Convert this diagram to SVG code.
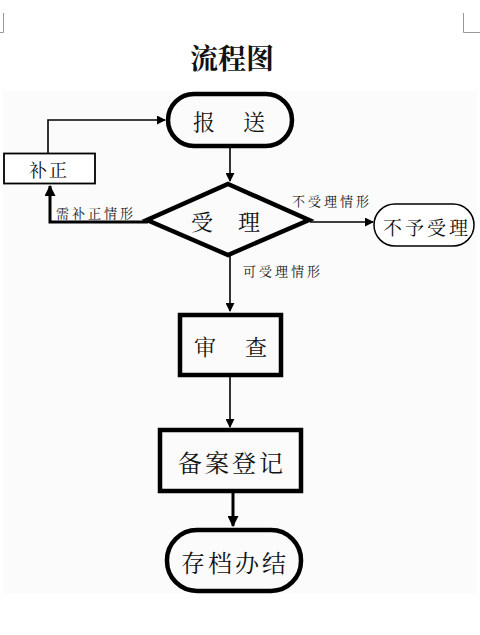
<svg xmlns="http://www.w3.org/2000/svg" width="480" height="635" viewBox="0 0 480 635">
<style>
text{font-family:"Noto Serif CJK SC","Noto Sans CJK SC","Noto Sans CJK JP",serif;fill:#111;text-anchor:middle;dominant-baseline:central}
.thick{fill:none;stroke:#000;stroke-width:4.5}
.ln{fill:none;stroke:#000;stroke-width:1.6}
.lnb{fill:none;stroke:#000;stroke-width:3}
.lbl{font-size:13px;letter-spacing:3px}
</style>
<defs>
<marker id="ah" viewBox="0 0 10 10" refX="9" refY="5" markerWidth="9" markerHeight="9" markerUnits="userSpaceOnUse" orient="auto">
<path d="M0,0 L10,5 L0,10 z" fill="#000"/>
</marker>
<marker id="ahb" viewBox="0 0 10 10" refX="9" refY="5" markerWidth="11" markerHeight="11" markerUnits="userSpaceOnUse" orient="auto">
<path d="M0,0 L10,5 L0,10 z" fill="#000"/>
</marker>
</defs>
<rect x="0" y="0" width="480" height="635" fill="#fff"/>
<g id="page-marks">
<path d="M3.5,13 V32.5 H0" fill="none" stroke="#999" stroke-width="1"/>
<path d="M463.5,13 V32.5 H480" fill="none" stroke="#999" stroke-width="1"/>
</g>
<rect x="3" y="91" width="474" height="502" fill="#fbfbfb"/>
<text x="232" y="57" style="font-size:28px;font-weight:bold">流程图</text>

<g id="connectors">
<path class="ln" d="M230,147 V181" marker-end="url(#ah)"/>
<path class="ln" d="M48,153 V120 H165" marker-end="url(#ah)"/>
<path class="lnb" d="M148,222 H50 V186" marker-end="url(#ahb)"/>
<path class="ln" d="M310,222 H373" marker-end="url(#ah)"/>
<path class="ln" d="M230,255 V311" marker-end="url(#ah)"/>
<path class="ln" d="M230,377 V427" marker-end="url(#ah)"/>
<path class="lnb" d="M233,493 V526" marker-end="url(#ahb)"/>
<text class="lbl" x="96" y="212">需补正情形</text>
<text class="lbl" x="332" y="200">不受理情形</text>
<text class="lbl" x="283" y="270">可受理情形</text>
</g>

<g id="n-baosong">
<rect class="thick" x="168" y="94" width="124" height="52" rx="26"/>
<text x="204" y="120" style="font-size:22px">报</text>
<text x="254" y="120" style="font-size:22px">送</text>
</g>
<g id="n-buzheng">
<rect x="4" y="153.5" width="91" height="30" fill="#fff" stroke="#000" stroke-width="1.8"/>
<text x="49" y="169" style="font-size:18px;letter-spacing:2px">补正</text>
</g>
<g id="n-shouli">
<path class="thick" d="M228,184 L309,220 L228,255 L147,220 Z" fill="#fff"/>
<text x="202" y="220" style="font-size:22px">受</text>
<text x="249" y="220" style="font-size:22px">理</text>
</g>
<g id="n-buyu">
<rect x="374" y="204" width="100" height="42" rx="21" fill="#fff" stroke="#000" stroke-width="1.5"/>
<text x="427" y="226" style="font-size:19px;letter-spacing:3px">不予受理</text>
</g>
<g id="n-shencha">
<rect class="thick" x="180" y="315" width="101" height="60" fill="#fff"/>
<text x="205" y="345" style="font-size:22px">审</text>
<text x="256" y="345" style="font-size:22px">查</text>
</g>
<g id="n-beian">
<rect class="thick" x="160" y="430" width="141" height="61" fill="#fff"/>
<text x="232" y="461" style="font-size:24px;letter-spacing:3px">备案登记</text>
</g>
<g id="n-cundang">
<rect class="thick" x="167" y="530" width="134" height="61" rx="30" fill="#fff"/>
<text x="235" y="561" style="font-size:24px;letter-spacing:3px">存档办结</text>
</g>
</svg>
